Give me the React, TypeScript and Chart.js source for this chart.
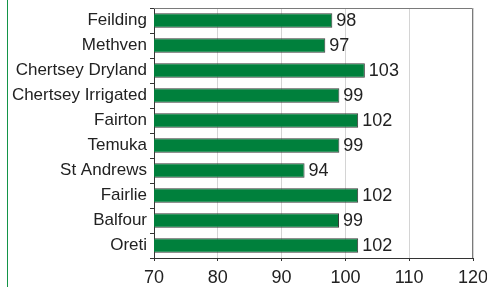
import React, { useEffect, useRef } from "react";
import { Chart, registerables } from "chart.js";

Chart.register(...registerables);

const categories = [
  "Feilding",
  "Methven",
  "Chertsey Dryland",
  "Chertsey Irrigated",
  "Fairton",
  "Temuka",
  "St Andrews",
  "Fairlie",
  "Balfour",
  "Oreti",
];
const values = [97.95, 96.85, 103.05, 99.05, 102.0, 99.05, 93.6, 102.0, 99.0, 102.0];
const xMin = 70;
const xMax = 120;
const xStep = 10;

const FONT = "'Liberation Sans', Arial, sans-serif";

export default function App() {
  const ref = useRef<HTMLCanvasElement | null>(null);

  useEffect(() => {
    if (!ref.current) return;
    const framePlugin = {
      id: "frame",
      beforeDraw(chart: any) {
        const ctx = chart.ctx;
        ctx.save();
        ctx.fillStyle = "#ffffff";
        ctx.fillRect(0, 0, chart.width, chart.height);
        ctx.strokeStyle = "#139447";
        ctx.lineWidth = 1;
        ctx.beginPath();
        ctx.moveTo(7.5, 0);
        ctx.lineTo(7.5, chart.height);
        ctx.stroke();
        ctx.restore();
      },
      afterDatasetsDraw(chart: any) {
        const ctx = chart.ctx;
        const a = chart.chartArea;
        ctx.save();
        ctx.strokeStyle = "#7a7a7a";
        ctx.lineWidth = 1;
        ctx.beginPath();
        ctx.moveTo(a.left, a.top + 0.5);
        ctx.lineTo(a.right - 0.5, a.top + 0.5);
        ctx.lineTo(a.right - 0.5, a.bottom);
        ctx.stroke();
        const meta = chart.getDatasetMeta(0);
        ctx.fillStyle = "#222222";
        ctx.font = `18px ${FONT}`;
        ctx.textBaseline = "middle";
        ctx.textAlign = "left";
        meta.data.forEach((bar: any, i: number) => {
          ctx.fillText(String(Math.round(values[i])), bar.x + 4, bar.y + 1);
        });
        ctx.restore();
      },
    };

    const chart = new Chart(ref.current, {
      type: "bar",
      data: {
        labels: categories,
        datasets: [
          {
            data: values,
            backgroundColor: "#00803c",
            borderColor: "#3a3a3a",
            borderWidth: 1,
            borderSkipped: false,
            barPercentage: 0.58,
            categoryPercentage: 1,
          },
        ],
      },
      options: {
        indexAxis: "y",
        animation: false,
        responsive: false,
        maintainAspectRatio: false,
        layout: { padding: { top: 8, right: 14, left: 0, bottom: 0 } },
        plugins: { legend: { display: false }, tooltip: { enabled: false } },
        scales: {
          x: {
            min: xMin,
            max: xMax,
            ticks: {
              stepSize: xStep,
              color: "#222222",
              font: { family: FONT, size: 18 },
              padding: 6,
              maxRotation: 0,
            },
            grid: {
              color: "#d4d4d4",
              tickColor: "#333333",
              tickLength: 3,
            },
            border: { color: "#333333", width: 1 },
            afterFit(scale: any) {
              scale.height = 29;
              scale.paddingRight = 0;
            },
          },
          y: {
            ticks: {
              color: "#222222",
              font: { family: FONT, size: 17, lineHeight: 0.55 },
              padding: 3,
            },
            grid: {
              drawOnChartArea: false,
              tickColor: "#333333",
              tickLength: 4,
              offset: true,
            },
            border: { color: "#333333", width: 1 },
            afterFit(scale: any) {
              scale.width = 154;
            },
          },
        },
      },
      plugins: [framePlugin],
    });
    return () => chart.destroy();
  }, []);

  return (
    <div style={{ position: "fixed", left: 0, top: 0, width: 487, height: 287 }}>
      <canvas ref={ref} width={487} height={287} style={{ display: "block" }} />
    </div>
  );
}
